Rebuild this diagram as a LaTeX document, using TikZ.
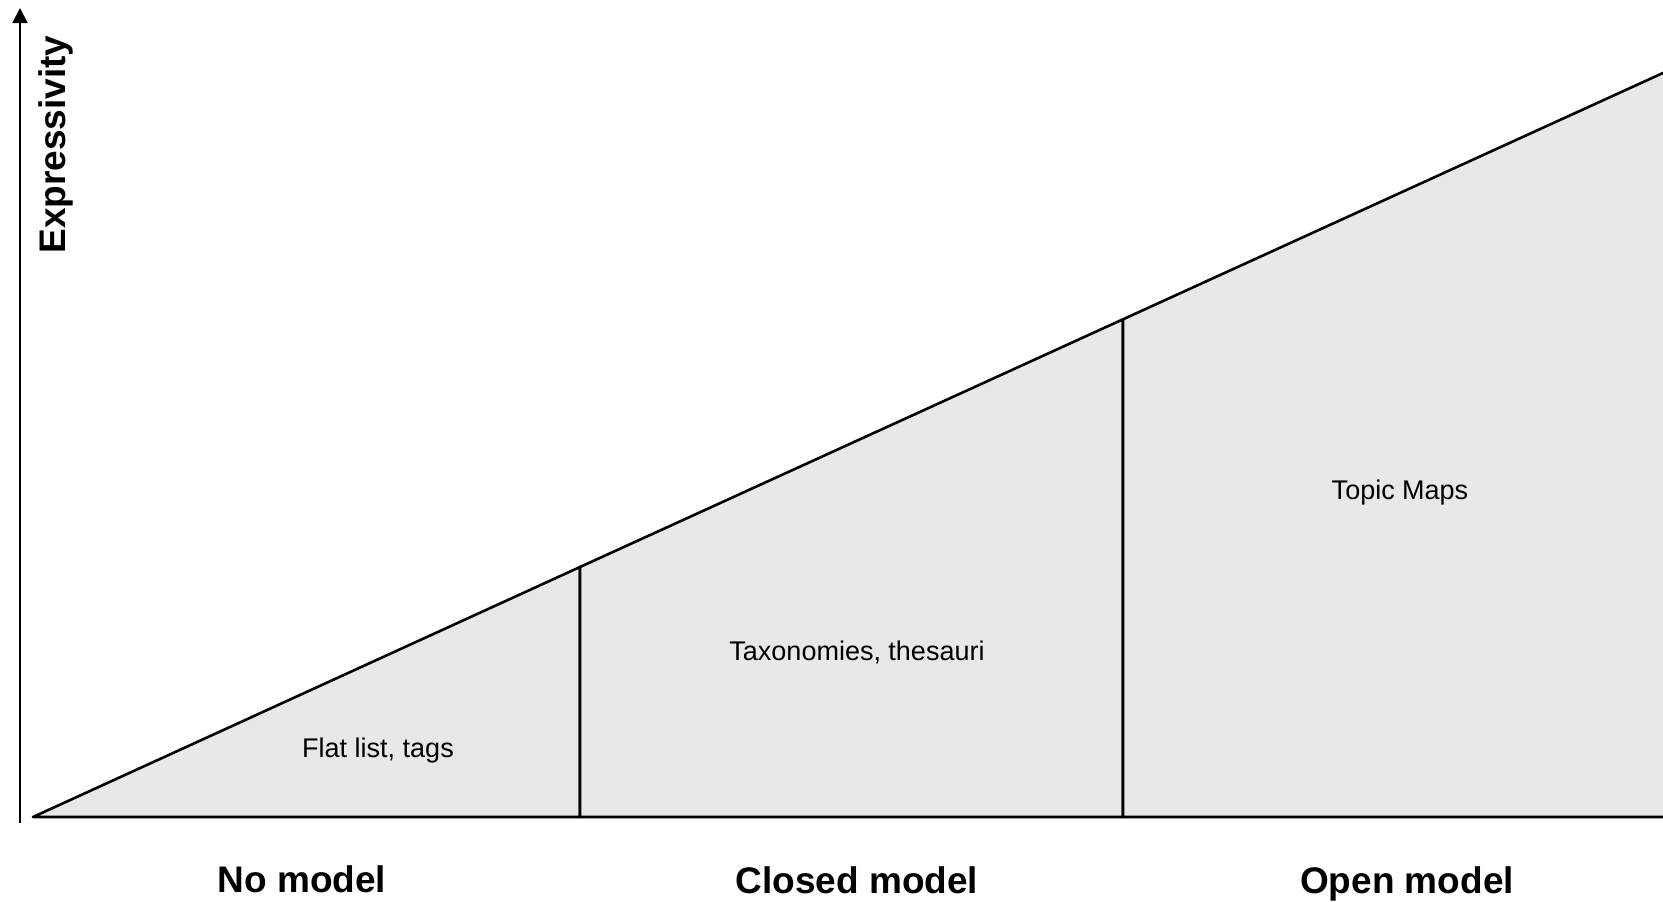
\documentclass[tikz,border=0pt]{standalone}
\usepackage{fontspec}
\setmainfont{Liberation Sans}
\usetikzlibrary{arrows.meta}
\definecolor{zonefill}{RGB}{232,232,232}
\begin{document}
\begin{tikzpicture}[x=1pt,y=-1pt,
  zone/.style={fill=zonefill,draw=black,line width=2.6pt,line join=round},
  axisline/.style={draw=black,line width=2pt,-{Triangle[length=15pt,width=15pt]}},
  zonelabel/.style={font=\fontsize{27}{31}\selectfont,anchor=base,inner sep=0pt},
  classlabel/.style={font=\bfseries\fontsize{37}{42}\selectfont,anchor=base,inner sep=0pt}]
  \useasboundingbox (0,0) rectangle (1663,902);
  \clip (0,0) rectangle (1663,902);

  % corner points along the rising edge
  \coordinate (o) at (33,817);
  \coordinate (b1) at (580,817);
  \coordinate (t1) at (580,567);
  \coordinate (b2) at (1123,817);
  \coordinate (t2) at (1123,319.3);
  \coordinate (b3) at (1700,817);
  \coordinate (t3) at (1700,56.1);

  % three regions under the slope
  \draw[zone] (o) -- (b1) -- (t1) -- cycle;
  \draw[zone] (b1) -- (b2) -- (t2) -- (t1) -- cycle;
  \draw[zone] (b2) -- (b3) -- (t3) -- (t2) -- cycle;

  % vertical axis
  \coordinate (ax0) at (20,823);
  \coordinate (ax1) at (20,8);
  \draw[axisline] (ax0) -- (ax1);
  \node[font=\bfseries\fontsize{37}{42}\selectfont,rotate=90,anchor=base,inner sep=0pt]
    (expr) at (65,144.5) {Expressivity};

  % region labels
  \node[zonelabel] (flat) at (378,757) {Flat list, tags};
  \node[zonelabel] (taxo) at (857,660) {Taxonomies, thesauri};
  \node[zonelabel] (topic) at (1400,499) {Topic Maps};

  % model classes
  \node[classlabel] (nomodel) at (302,892) {No model};
  \node[classlabel] (closed) at (857,893) {Closed model};
  \node[classlabel] (open) at (1407,893) {Open model};
\end{tikzpicture}
\end{document}
